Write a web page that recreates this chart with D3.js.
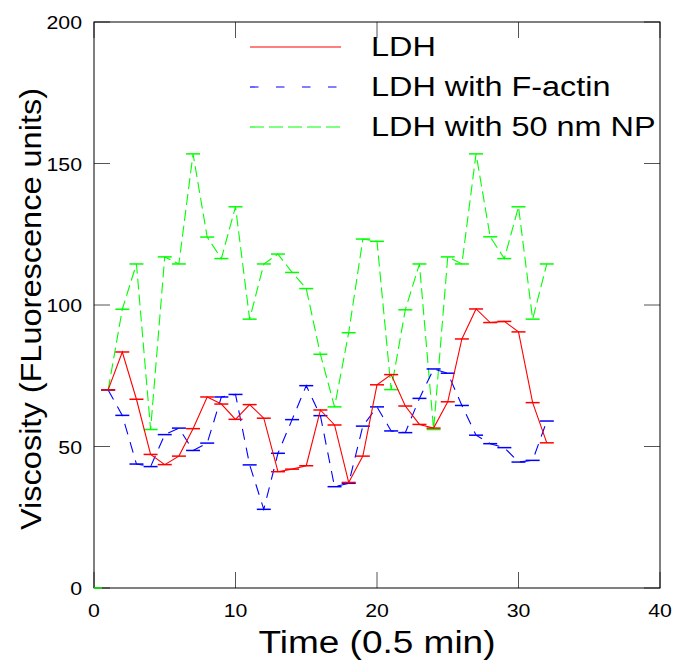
<!DOCTYPE html>
<html>
<head>
<meta charset="utf-8">
<script src="https://cdn.jsdelivr.net/npm/d3@7"></script>
<style>
  body { margin: 0; background: #fff; }
  text { font-family: "Liberation Sans", Arial, sans-serif; }
</style>
</head>
<body>
<div id="chart"></div>
<script>
const width = 673,
height = 661,
margin = { top: 22, right: 13, bottom: 73, left: 94 };

// time points (0.5 min)
const times = d3.range(1, 33);

const ldh = [70, 83.4, 66.7, 47.2, 43.6, 46.6, 56.3, 67.5, 65, 59.6, 64.8, 60, 41.1, 42, 43.2, 62.9,
  57.6, 37.3, 46.6, 71.8, 75.4, 64.3, 57.8, 56.5, 65.8, 88, 98.6, 93.8, 94.2, 90.5, 65.5, 51.3];

const ldhActin = [70, 61, 43.8, 42.9, 54.2, 56.5, 48.6, 51.2, 67.5, 68.4, 43.5, 27.8, 47.6, 59.5, 71.5, 60.9,
  35.8, 37, 57.2, 64, 55.5, 54.9, 67, 77.4, 75.9, 64.5, 54, 51, 49.6, 44.5, 45.1, 59];

const ldhNP = [70, 98.5, 114.5, 56, 117, 114.5, 153.4, 124, 116.4, 134.7, 95, 114.5, 118, 111.5, 105.8, 82.6,
  64, 90.2, 123.3, 122.5, 70.1, 98.3, 114.5, 56, 117, 114.5, 153.4, 124.1, 116.4, 134.7, 95, 114.5];

const xTicks = [0, 10, 20, 30, 40],
yTicks = [0, 50, 100, 150, 200];

const seriesNames = ["LDH", "LDH with F-actin", "LDH with 50 nm NP"];

const series = [
  { name: seriesNames[0], values: ldh, color: "#ff0000", dash: null },
  { name: seriesNames[1], values: ldhActin, color: "#0000ff", dash: "11,8" },
  { name: seriesNames[2], values: ldhNP, color: "#00ff00", dash: "11,5" }
];

const svg = d3.select("#chart").append("svg")
  .attr("width", width)
  .attr("height", height);

// the original font is a bit wider than Liberation Sans
function stretch(sel, k) {
  sel.each(function () {
    const len = this.getComputedTextLength();
    d3.select(this).attr("textLength", len * k).attr("lengthAdjust", "spacingAndGlyphs");
  });
}

const w = width - margin.left - margin.right,
h = height - margin.top - margin.bottom;

const x = d3.scaleLinear().domain([0, 40]).range([margin.left, margin.left + w]);
const y = d3.scaleLinear().domain([0, 200]).range([margin.top + h, margin.top]);

const tickLen = 16;

// inward ticks on all four sides
const axisG = svg.append("g");
xTicks.forEach(t => {
  axisG.append("line").attr("x1", x(t)).attr("x2", x(t))
    .attr("y1", y(0)).attr("y2", y(0) - tickLen)
    .attr("stroke", "#555").attr("stroke-width", 1);
  axisG.append("line").attr("x1", x(t)).attr("x2", x(t))
    .attr("y1", y(200)).attr("y2", y(200) + tickLen)
    .attr("stroke", "#555").attr("stroke-width", 1);
  axisG.append("text").attr("class", "tick").attr("x", x(t)).attr("y", y(0) + 29)
    .attr("text-anchor", "middle").style("font-size", "19px").text(t);
});
yTicks.forEach(t => {
  axisG.append("line").attr("x1", x(0)).attr("x2", x(0) + tickLen)
    .attr("y1", y(t)).attr("y2", y(t))
    .attr("stroke", "#555").attr("stroke-width", 1);
  axisG.append("line").attr("x1", x(40)).attr("x2", x(40) - tickLen)
    .attr("y1", y(t)).attr("y2", y(t))
    .attr("stroke", "#555").attr("stroke-width", 1);
  axisG.append("text").attr("class", "tick").attr("x", x(0) - 12).attr("y", y(t) + 7)
    .attr("text-anchor", "end").style("font-size", "19px").text(t);
});
stretch(axisG.selectAll("text.tick"), 1.12);

// box
svg.append("rect")
  .attr("x", x(0)).attr("y", y(200))
  .attr("width", x(40) - x(0)).attr("height", y(0) - y(200))
  .attr("fill", "none").attr("stroke", "#000").attr("stroke-width", 1);

const line = d3.line().x((d, i) => x(times[i])).y(d => y(d));
const capW = 7;

// draw NP first, then actin, then LDH on top
[series[2], series[1], series[0]].forEach(s => {
  const g = svg.append("g");
  g.append("path")
    .datum(s.values)
    .attr("d", line)
    .attr("fill", "none")
    .attr("stroke", s.color)
    .attr("stroke-width", 1.1)
    .attr("stroke-dasharray", s.dash);
  g.selectAll("line.cap").data(s.values).enter().append("line")
    .attr("class", "cap")
    .attr("x1", (d, i) => x(times[i]) - capW)
    .attr("x2", (d, i) => x(times[i]) + capW)
    .attr("y1", d => y(d)).attr("y2", d => y(d))
    .attr("stroke", s.color).attr("stroke-width", 1.5);
});

// stray green mark at origin
svg.append("line")
  .attr("x1", x(0)).attr("x2", x(0) + 8)
  .attr("y1", y(0)).attr("y2", y(0))
  .attr("stroke", "#00ff00").attr("stroke-width", 1.5);

// legend
const legend = svg.append("g");
series.forEach((s, i) => {
  const ly = 47 + i * 40;
  legend.append("line")
    .attr("x1", 250).attr("x2", 341)
    .attr("y1", ly).attr("y2", ly)
    .attr("stroke", s.color).attr("stroke-width", 1.2)
    .attr("stroke-dasharray", i === 1 ? "8.5,17.5" : i === 2 ? "14,5" : null);
  legend.append("text")
    .attr("x", 371).attr("y", ly + 9)
    .style("font-size", "27px")
    .text(s.name);
});
stretch(legend.selectAll("text"), 1.2);

// axis titles
const xTitle = svg.append("text")
  .attr("x", x(20)).attr("y", 653)
  .attr("text-anchor", "middle")
  .style("font-size", "31px")
  .text("Time (0.5 min)");
xTitle.attr("textLength", 237).attr("lengthAdjust", "spacingAndGlyphs");

const yTitle = svg.append("text")
  .attr("transform", "translate(41,309) rotate(-90)")
  .attr("text-anchor", "middle")
  .style("font-size", "30px")
  .text("Viscosity (FLuorescence units)");
yTitle.attr("textLength", 442).attr("lengthAdjust", "spacingAndGlyphs");
</script>
</body>
</html>
